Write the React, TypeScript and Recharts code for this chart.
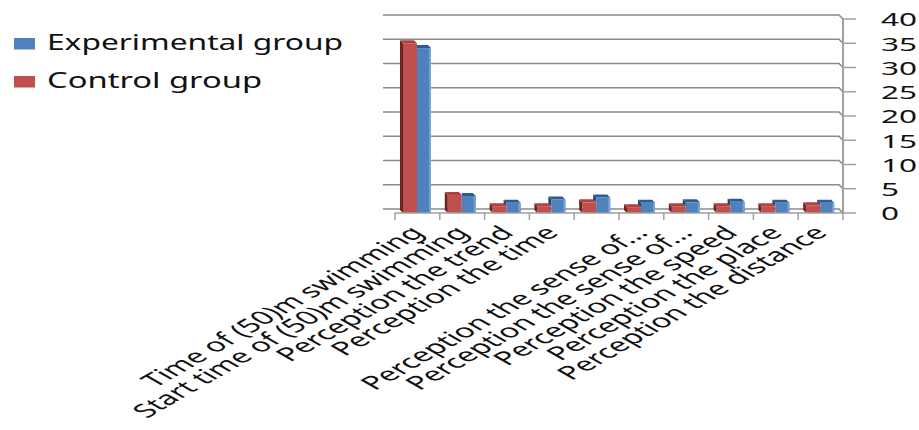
import React from 'react';
import { BarChart, Bar, XAxis, YAxis, CartesianGrid, Legend } from 'recharts';

const CATEGORIES = [
  'Time of  (50)m swimming',
  'Start time of  (50)m swimming',
  'Perception the trend',
  'Perception the time',
  '',
  'Perception the sense of…',
  'Perception the sense of…',
  'Perception the speed',
  'Perception the place',
  'Perception the distance',
];
const CONTROL = [35, 3.7, 1.4, 1.4, 2.2, 1.2, 1.4, 1.4, 1.4, 1.6];
const EXPERIMENTAL = [34, 3.5, 2.1, 2.8, 3.2, 2.1, 2.2, 2.3, 2.1, 2.1];
const Y_TICKS = [0, 5, 10, 15, 20, 25, 30, 35, 40];
const LEGEND_ITEMS = [
  { label: 'Experimental group', color: '#4F81BD', textLength: 296 },
  { label: 'Control group', color: '#C0504D', textLength: 215 },
];

const data = CATEGORIES.map((name, i) => ({
  name,
  control: CONTROL[i],
  experimental: EXPERIMENTAL[i],
}));

const D = 3;
const RED = '#C0504D';
const RED_SIDE = '#6E2321';
const RED_TOP = '#B0403D';
const BLUE = '#4F81BD';
const BLUE_SIDE = '#22436F';
const BLUE_TOP = '#2F5B90';
const BLUE_HI = '#78A3D8';
const GRID = '#8a8a8a';
const AXIS = '#a0a0a0';
const FONT = '"Noto Sans", "Open Sans", sans-serif';

function ControlShape(p: any) {
  const { x, y, width: w, height: h } = p;
  if (!(h > 0)) return <g />;
  return (
    <g>
      <polygon points={`${x},${y} ${x - D},${y - D} ${x - D},${y + h - D} ${x},${y + h}`} fill={RED_SIDE} />
      <polygon points={`${x},${y} ${x - D},${y - D} ${x + w - D},${y - D} ${x + w},${y}`} fill={RED_TOP} />
      <rect x={x} y={y} width={w} height={h} fill={RED} />
    </g>
  );
}

function ExperimentalShape(p: any) {
  const { x, y, width: w, height: h, payload } = p;
  if (!(h > 0)) return <g />;
  const base = y + h;
  const per = h / payload.experimental;
  const ry = base - payload.control * per;
  const taller = ry > y;
  return (
    <g>
      {taller ? (
        <polygon points={`${x},${y} ${x - D},${y - D} ${x - D},${ry - D} ${x},${ry}`} fill={BLUE_SIDE} />
      ) : null}
      {taller ? (
        <polygon points={`${x},${y} ${x - D},${y - D} ${x + w - D},${y - D} ${x + w},${y}`} fill={BLUE_TOP} />
      ) : (
        <polygon points={`${x},${y} ${x},${y - D} ${x + w - D},${y - D} ${x + w},${y}`} fill={BLUE_TOP} />
      )}
      <rect x={x} y={y} width={w} height={h} fill={BLUE} />
      <rect x={x + w - 2} y={y} width={2} height={h} fill={BLUE_HI} />
    </g>
  );
}

function XTick(p: any) {
  const { x, y, payload, index, width } = p;
  const band = (typeof width === 'number' && width > 0 ? width : 448) / CATEGORIES.length;
  const left = x - band / 2;
  const right = x + band / 2;
  return (
    <g>
      <line x1={left} y1={y} x2={left} y2={y + 7} stroke={AXIS} strokeWidth={1.5} />
      {index === CATEGORIES.length - 1 ? (
        <line x1={right} y1={y} x2={right} y2={y + 7} stroke={AXIS} strokeWidth={1.5} />
      ) : null}
      {payload.value ? (
        <text
          transform={`translate(${x + 8},${y + 21}) scale(1.75,1) rotate(-45)`}
          x={0}
          y={0}
          textAnchor="end"
          fontSize={18.8}
          fontFamily={FONT}
          fill="#111"
        >
          {payload.value}
        </text>
      ) : null}
    </g>
  );
}

function YTick(p: any) {
  const { x, y, payload } = p;
  return (
    <text
      transform={`translate(${x},${y + 1}) scale(1.8,1)`}
      x={0}
      y={0}
      dy="0.36em"
      textAnchor="start"
      fontSize={17.5}
      fontFamily={FONT}
      fill="#111"
    >
      {payload.value}
    </text>
  );
}

function GridLine(p: any) {
  const { x1, y1, x2, key } = p;
  return (
    <polyline
      key={key}
      points={`${x1 - 12},${y1 - 4} ${x2 - 4},${y1 - 4} ${x2},${y1}`}
      fill="none"
      stroke={GRID}
      strokeWidth={1.6}
    />
  );
}

function LegendContent() {
  return (
    <svg width={380} height={100}>
      {LEGEND_ITEMS.map((it, i) => (
        <g key={it.label}>
          <rect x={14} y={38 + i * 38} width={21} height={11.5} fill={it.color} />
          <text
            x={47}
            y={50 + i * 38}
            fontSize={21}
            fontFamily={FONT}
            fill="#111"
            textLength={it.textLength}
            lengthAdjust="spacingAndGlyphs"
          >
            {it.label}
          </text>
        </g>
      ))}
    </svg>
  );
}

export default function App() {
  return (
    <div style={{ position: 'absolute', left: 0, top: 0, width: 919, height: 430, background: '#fff' }}>
      <BarChart
        width={919}
        height={430}
        data={data}
        margin={{ top: 19, right: 0, bottom: 17, left: 395 }}
        barGap={0}
        barSize={14}
      >
        <CartesianGrid vertical={false} horizontal={GridLine as any} />
        <XAxis
          dataKey="name"
          height={200}
          interval={0}
          tickSize={0}
          tickMargin={0}
          tickLine={false}
          axisLine={{ stroke: AXIS, strokeWidth: 1.5 }}
          tick={<XTick />}
        />
        <YAxis
          orientation="right"
          domain={[0, 40]}
          ticks={Y_TICKS}
          width={76}
          tickSize={13}
          tickMargin={25}
          axisLine={{ stroke: AXIS, strokeWidth: 2 }}
          tickLine={{ stroke: AXIS, strokeWidth: 1.5 }}
          tick={<YTick />}
        />
        <Legend
          layout="vertical"
          align="center"
          verticalAlign="middle"
          wrapperStyle={{ left: 0, top: 0, width: 380, height: 100 }}
          content={<LegendContent />}
        />
        <Bar dataKey="control" name="Control group" fill={RED} isAnimationActive={false} shape={ControlShape} />
        <Bar dataKey="experimental" name="Experimental group" fill={BLUE} isAnimationActive={false} shape={ExperimentalShape} />
      </BarChart>
    </div>
  );
}
